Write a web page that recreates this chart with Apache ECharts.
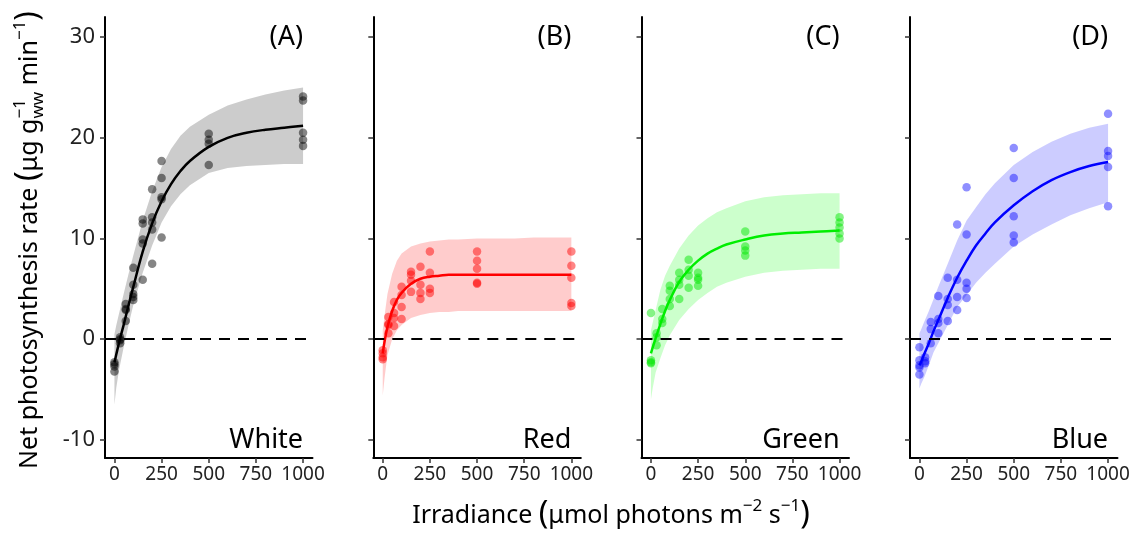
<!DOCTYPE html>
<html><head><meta charset="utf-8">
<script src="https://cdn.jsdelivr.net/npm/echarts@6/dist/echarts.min.js"></script>
<style>html,body{margin:0;padding:0;background:#fff}#c{width:1137px;height:535px}</style>
</head><body><div id="c"></div>
<script>
// ---------- data ----------
const irradianceTicks = [0, 250, 500, 750, 1000];
const rateTicks = [-10, 0, 10, 20, 30];
const panelNames = ['White', 'Red', 'Green', 'Blue'];
const panelTags = ['(A)', '(B)', '(C)', '(D)'];

const whitePoints = [[0,-2.3],[0,-2.5],[0,-2.7],[0,-3.2],[30,0.2],[30,-0.1],[30,-0.4],[30,0.0],
  [60,3.5],[60,2.9],[60,3.0],[60,1.8],[100,7.1],[100,5.4],[100,4.5],[100,4.2],[100,3.9],
  [150,11.9],[150,11.5],[150,9.9],[150,9.5],[150,5.9],[200,14.9],[200,12.1],[200,11.6],[200,10.9],[200,7.5],
  [250,17.7],[250,16.0],[250,14.1],[250,13.9],[250,10.1],[500,20.4],[500,19.8],[500,19.4],[500,17.3],
  [1000,24.1],[1000,23.7],[1000,20.5],[1000,19.8],[1000,19.2]];
const redPoints = [[0,-1.1],[0,-1.4],[0,-1.8],[0,-2.0],[30,2.2],[30,1.4],[30,1.5],[30,0.6],
  [60,3.7],[60,2.6],[60,2.1],[60,1.3],[100,5.2],[100,4.4],[100,3.2],[100,2.0],
  [150,6.7],[150,6.4],[150,5.8],[150,4.7],[200,7.2],[200,5.4],[200,4.6],[200,4.0],
  [250,8.7],[250,6.6],[250,5.0],[250,4.6],[500,8.7],[500,7.8],[500,7.0],[500,5.6],[500,5.5],
  [1000,8.7],[1000,7.3],[1000,6.1],[1000,3.6],[1000,3.3]];
const greenPoints = [[0,2.6],[0,-2.1],[0,-2.3],[0,-2.4],[30,0.6],[30,-0.6],[30,0.2],
  [60,3.0],[60,2.0],[60,1.6],[100,5.3],[100,4.8],[100,4.0],[100,3.3],
  [150,6.6],[150,5.9],[150,5.4],[150,4.0],[200,7.9],[200,6.9],[200,6.3],[200,5.1],
  [250,6.6],[250,6.1],[250,5.9],[250,5.3],[500,10.7],[500,9.2],[500,8.8],[500,8.3],
  [1000,12.1],[1000,11.6],[1000,11.1],[1000,10.5],[1000,10.0]];
const bluePoints = [[0,-0.8],[0,-2.1],[0,-2.6],[0,-2.8],[0,-3.5],[30,-1.8],[30,-2.4],[30,-2.2],
  [60,1.7],[60,1.0],[60,-0.4],[100,4.3],[100,2.0],[100,1.6],[100,0.6],
  [150,6.1],[150,4.0],[150,3.4],[150,1.8],[200,11.4],[200,5.9],[200,4.2],[200,2.9],
  [250,15.1],[250,10.4],[250,5.6],[250,5.0],[250,4.1],[500,19.0],[500,16.0],[500,12.2],[500,10.3],[500,9.6],
  [1000,22.4],[1000,18.7],[1000,18.2],[1000,17.1],[1000,13.2]];

const fitX = [0,10,25,50,75,100,150,200,250,300,350,400,500,600,700,800,900,1000];
const whiteFit   = [-2.3,-1.5,-0.3,1.5,3.4,5.2,8.7,11.5,13.7,15.4,16.7,17.7,19.1,20.0,20.5,20.8,21.0,21.2];
const whiteUpper = [0.5,1.4,2.6,4.6,6.5,8.3,11.8,14.7,17.1,18.9,20.2,21.1,22.3,23.2,23.8,24.3,24.7,25.0];
const whiteLower = [-6.5,-4.8,-3.0,-0.7,1.4,3.4,6.6,9.3,11.6,13.2,14.4,15.3,16.5,17.0,17.2,17.3,17.4,17.4];
const redFit     = [-1.4,-0.2,1.2,2.8,3.9,4.6,5.5,6.0,6.2,6.3,6.4,6.4,6.4,6.4,6.4,6.4,6.4,6.4];
const redUpper   = [0.9,2.4,4.5,6.5,7.8,8.5,9.2,9.5,9.7,9.8,9.9,9.9,10.0,10.0,10.0,10.1,10.1,10.1];
const redLower   = [-5.6,-3.8,-1.6,0.0,0.9,1.4,2.1,2.4,2.6,2.7,2.7,2.8,2.8,2.8,2.8,2.8,2.8,2.8];
const greenFit   = [-1.4,-0.8,0.1,1.5,2.8,3.9,5.7,6.9,7.8,8.5,9.0,9.4,9.9,10.3,10.5,10.6,10.7,10.8];
const greenUpper = [0.9,1.7,2.9,4.9,6.3,7.3,9.0,10.3,11.3,12.0,12.6,13.0,13.7,14.1,14.3,14.4,14.5,14.5];
const greenLower = [-6.0,-4.8,-3.3,-1.9,-0.6,0.4,1.9,3.0,3.9,4.6,5.2,5.6,6.2,6.6,6.8,6.9,7.0,7.0];
const blueFit    = [-2.6,-2.2,-1.5,-0.4,0.8,1.9,4.1,6.1,7.8,9.3,10.5,11.6,13.3,14.7,15.8,16.6,17.2,17.6];
const blueUpper  = [0.6,1.0,1.7,2.8,4.0,5.2,7.5,9.8,11.8,13.1,14.4,15.5,17.3,18.6,19.6,20.4,21.0,21.4];
const blueLower  = [-4.9,-4.4,-3.8,-2.6,-1.3,-0.4,1.4,3.2,4.4,5.6,6.6,7.5,9.2,10.4,11.4,12.3,13.0,13.6];

// ---------- styling ----------
const FONT = '"Noto Sans", sans-serif';
const panelStyle = [
  {line:'#000000', point:'rgba(0,0,0,0.6)',     band:'rgba(0,0,0,0.2)'},
  {line:'#ff0000', point:'rgba(255,0,0,0.6)',   band:'rgba(255,0,0,0.2)'},
  {line:'#00ee00', point:'rgba(0,230,0,0.6)',   band:'rgba(0,255,0,0.2)'},
  {line:'#0000ff', point:'rgba(0,0,255,0.55)',  band:'rgba(0,0,255,0.2)'}
];
const panelData = [
  {pts:whitePoints, fit:whiteFit, up:whiteUpper, lo:whiteLower},
  {pts:redPoints,   fit:redFit,   up:redUpper,   lo:redLower},
  {pts:greenPoints, fit:greenFit, up:greenUpper, lo:greenLower},
  {pts:bluePoints,  fit:blueFit,  up:blueUpper,  lo:blueLower}
];
const gridLefts = [105, 373.3, 641.5, 910];
const gridW = 207.5;

const chart = echarts.init(document.getElementById('c'), null, {renderer:'canvas'});

const grids = [], xAxes = [], yAxes = [], series = [];
panelData.forEach((pd, i) => {
  grids.push({left: gridLefts[i], top: 17, width: gridW, height: 441});
  xAxes.push({
    gridIndex: i, type: 'value', min: -50, max: 1050,
    axisLine: {show: true, onZero: false, lineStyle: {color: '#000', width: 2}},
    axisTick: {show: true, customValues: irradianceTicks, length: 5, lineStyle: {color: '#333', width: 1.5}},
    axisLabel: {show: true, customValues: irradianceTicks, fontSize: 19, color: '#222', margin: 7,
      fontFamily: 'Noto Sans', formatter: v => String(v)},
    splitLine: {show: false}
  });
  yAxes.push({
    gridIndex: i, type: 'value', min: -11.8, max: 32,
    axisLine: {show: true, onZero: false, lineStyle: {color: '#000', width: 2}},
    axisTick: {show: true, customValues: rateTicks, length: 5, lineStyle: {color: '#333', width: 1.5}},
    axisLabel: {show: i === 0, customValues: rateTicks, fontSize: 22, color: '#222', margin: 10,
      fontFamily: 'Noto Sans', formatter: v => String(v)},
    splitLine: {show: false}
  });
  const st = panelStyle[i];
  series.push({
    type: 'custom', xAxisIndex: i, yAxisIndex: i, z: 1, silent: true,
    data: [[0, 0]],
    renderItem: function (params, api) {
      const ptsPoly = [];
      fitX.forEach((x, k) => ptsPoly.push(api.coord([x, pd.up[k]])));
      for (let k = fitX.length - 1; k >= 0; k--) ptsPoly.push(api.coord([fitX[k], pd.lo[k]]));
      return {type: 'polygon', shape: {points: ptsPoly}, style: {fill: st.band}};
    }
  });
  series.push({
    type: 'line', xAxisIndex: i, yAxisIndex: i, z: 2, silent: true,
    data: [], showSymbol: false,
    markLine: {silent: true, symbol: 'none', label: {show: false},
      lineStyle: {color: '#000', width: 2, type: [11, 8]},
      data: [{yAxis: 0}]}
  });
  series.push({
    type: 'scatter', xAxisIndex: i, yAxisIndex: i, z: 3, silent: true,
    data: pd.pts, symbolSize: 8.5,
    itemStyle: {color: st.point}
  });
  series.push({
    type: 'line', xAxisIndex: i, yAxisIndex: i, z: 4, silent: true,
    data: fitX.map((x, k) => [x, pd.fit[k]]),
    showSymbol: false, smooth: 0.4,
    lineStyle: {color: st.line, width: 2.5}
  });
});

chart.setOption({
  animation: false,
  backgroundColor: '#fff',
  grid: grids, xAxis: xAxes, yAxis: yAxes, series: series
});

// ---------- titles & panel labels ----------
const mctx = document.createElement('canvas').getContext('2d');
function measure(t, s) { mctx.font = s + 'px ' + FONT; return mctx.measureText(t).width; }
function buildTitle(parts) {
  let x = 0; const els = [];
  parts.forEach(p => {
    const items = p.stack || [p];
    let w = 0;
    items.forEach(it => {
      els.push({type: 'text', x: x, y: it.dy || 0, silent: true,
        style: {text: it.t, font: it.s + 'px ' + FONT, fill: '#000',
          align: 'left', textAlign: 'left', verticalAlign: 'middle', textVerticalAlign: 'middle'}});
      w = Math.max(w, measure(it.t, it.s));
    });
    x += w;
  });
  els.forEach(e => { e.x -= x / 2; });
  return els;
}
const yTitleParts = [
  {t: 'Net photosynthesis rate ', s: 25}, {t: '(', s: 32, dy: -1}, {t: 'μg g', s: 25},
  {stack: [{t: '−1', s: 17, dy: -10}, {t: 'ww', s: 17, dy: 8}]},
  {t: ' min', s: 25}, {t: '−1', s: 17, dy: -10}, {t: ')', s: 32, dy: -1}
];
const xTitleParts = [
  {t: 'Irradiance ', s: 25}, {t: '(', s: 32, dy: -1}, {t: 'μmol photons m', s: 25},
  {t: '−2', s: 17, dy: -10}, {t: ' s', s: 25}, {t: '−1', s: 17, dy: -10}, {t: ')', s: 32, dy: -1}
];

const graphics = [
  {type: 'group', x: 30, y: 240, rotation: Math.PI / 2, children: buildTitle(yTitleParts)},
  {type: 'group', x: 611, y: 516, children: buildTitle(xTitleParts)}
];
panelData.forEach((pd, i) => {
  const top = chart.convertToPixel({xAxisIndex: i, yAxisIndex: i}, [1000, 30]);
  const bot = chart.convertToPixel({xAxisIndex: i, yAxisIndex: i}, [1000, -10]);
  graphics.push({type: 'text', x: top[0], y: top[1], silent: true,
    style: {text: panelTags[i], font: '27px ' + FONT, fill: '#000', align: 'right', textAlign: 'right', verticalAlign: 'middle', textVerticalAlign: 'middle'}});
  graphics.push({type: 'text', x: bot[0], y: bot[1], silent: true,
    style: {text: panelNames[i], font: '27px ' + FONT, fill: '#000', align: 'right', textAlign: 'right', verticalAlign: 'middle', textVerticalAlign: 'middle'}});
});
chart.setOption({graphic: graphics});
</script>
</body></html>
